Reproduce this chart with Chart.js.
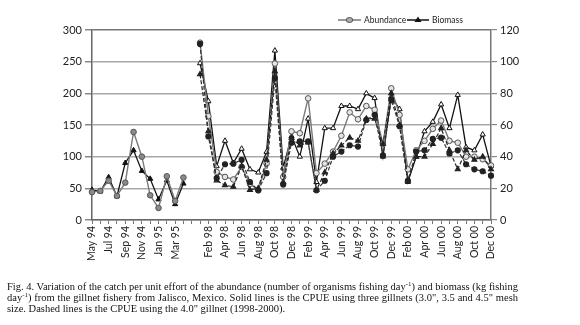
<!DOCTYPE html>
<html><head><meta charset="utf-8">
<script src="https://cdn.jsdelivr.net/npm/chart.js@4.4.1/dist/chart.umd.min.js"></script>
<style>
html,body{margin:0;padding:0;background:#fff;}
#wrap{position:relative;width:580px;height:325px;overflow:hidden;}
#c{position:absolute;left:0;top:0;}
#cap{position:absolute;left:7px;top:281px;width:511px;font-family:"Liberation Serif","Times New Roman",serif;font-size:10.5px;line-height:11px;color:#111;}
#cap div{white-space:nowrap;height:11px;}
#cap span{display:inline-block;transform-origin:0 0;}
#cap sup{font-size:7px;line-height:0;vertical-align:4px;}
</style></head>
<body><div id="wrap"><canvas id="c" width="580" height="325"></canvas>
<div id="cap">
<div><span>Fig. 4. Variation of the catch per unit effort of the abundance (number of organisms fishing day<sup>-1</sup>) and biomass (kg fishing</span></div>
<div><span>day<sup>-1</sup>) from the gillnet fishery from Jalisco, Mexico. Solid lines is the CPUE using three gillnets (3.0", 3.5 and 4.5" mesh</span></div>
<div><span>size. Dashed lines is the CPUE using the 4.0" gillnet (1998-2000).</span></div>
</div></div>
<script>
// ---- data ----
const months = ['May 94','Jun 94','Jul 94','Aug 94','Sep 94','Oct 94','Nov 94','Dec 94','Jan 95','Feb 95','Mar 95','Apr 95','',
 'Jan 98','Feb 98','Mar 98','Apr 98','May 98','Jun 98','Jul 98','Aug 98','Sep 98','Oct 98','Nov 98','Dec 98',
 'Jan 99','Feb 99','Mar 99','Apr 99','May 99','Jun 99','Jul 99','Aug 99','Sep 99','Oct 99','Nov 99','Dec 99',
 'Jan 00','Feb 00','Mar 00','Apr 00','May 00','Jun 00','Jul 00','Aug 00','Sep 00','Oct 00','Nov 00','Dec 00'];
// Abundance (three gillnets), left axis
const abundance = [44,46,62,38,59,139,100,39,19,69,30,67,null,
 280,164,76,68,64,84,57,47,89,247,68,140,
 137,192,74,89,108,133,170,159,180,174,120,208,
 166,80,110,125,144,157,125,122,100,100,96,86];
// Biomass (three gillnets), right axis
const biomass = [19,18,27,15,36,44,31,26,13,25,10,23,null,
 99,75,34,50,36,45,32,30,43,107,33,53,
 40,64,24,58,58,72,72,70,80,77,40,78,
 70,24,40,56,62,73,58,79,46,44,54,34];
// Abundance (4.0" gillnet), left axis
const abundance4 = [null,null,null,null,null,null,null,null,null,null,null,null,null,
 278,132,66,88,89,95,60,47,74,224,56,122,
 124,124,47,62,100,108,118,116,158,166,102,190,
 148,62,108,110,128,130,105,110,88,80,77,70];
// Biomass (4.0" gillnet), right axis
const biomass4 = [null,null,null,null,null,null,null,null,null,null,null,null,null,
 92,56,25,22,21,34,19,20,38,94,24,52,
 47,49,19,30,42,47,52,50,64,64,48,80,
 60,25,40,40,48,58,44,32,44,38,40,32];
const leftTicks = [0,50,100,150,200,250,300];
const rightTicks = [0,20,40,60,80,100,120];

const tickFont = {family:'Lato', size:11};
const legendPlugin = {
  id:'customLegend',
  afterDraw(chart){
    const ctx = chart.ctx;
    ctx.save();
    const y = 20;
    ctx.lineWidth = 1.5;
    ctx.strokeStyle = '#777';
    ctx.beginPath(); ctx.moveTo(338,y); ctx.lineTo(361,y); ctx.stroke();
    ctx.fillStyle = '#aaa'; ctx.strokeStyle='#555'; ctx.lineWidth=1;
    ctx.beginPath(); ctx.ellipse(349.5,y,3.3,2.5,0,0,Math.PI*2); ctx.fill(); ctx.stroke();
    ctx.strokeStyle = '#111'; ctx.lineWidth=1.5;
    ctx.beginPath(); ctx.moveTo(407,y); ctx.lineTo(429,y); ctx.stroke();
    ctx.fillStyle='#111';
    ctx.beginPath(); ctx.moveTo(418,y-3.5); ctx.lineTo(421.5,y+2); ctx.lineTo(414.5,y+2); ctx.closePath(); ctx.fill();
    ctx.font = '8.5px Lato'; ctx.fillStyle='#222'; ctx.textBaseline='middle';
    ctx.fillText('Abundance',364,y);
    ctx.fillText('Biomass',432,y);
    ctx.restore();
  }
};

new Chart(document.getElementById('c'), {
  type:'line',
  data:{
    labels: months,
    datasets:[
      {label:'Abundance 4.0"', data:abundance4, yAxisID:'y', borderColor:'#333', borderWidth:1.2, borderDash:[4,2],
       pointStyle:'circle', pointRadius:2.5, pointBackgroundColor:'#222', pointBorderColor:'#222', spanGaps:false},
      {label:'Biomass 4.0"', data:biomass4, yAxisID:'y2', borderColor:'#222', borderWidth:1.2, borderDash:[4,2],
       pointStyle:'triangle', pointRadius:2.8, pointBackgroundColor:'#222', pointBorderColor:'#222', spanGaps:false},
      {label:'Abundance', data:abundance, yAxisID:'y', borderColor:'#7a7a7a', borderWidth:1.4,
       pointStyle:'circle', pointRadius:2.8, pointBackgroundColor:c=>c.dataIndex<12?'#8a8a8a':'#e4e4e4', pointBorderColor:'#555', pointBorderWidth:1, spanGaps:false},
      {label:'Biomass', data:biomass, yAxisID:'y2', borderColor:'#111', borderWidth:1.3,
       pointStyle:'triangle', pointRadius:3, pointBackgroundColor:c=>c.dataIndex<12?'#111':'#fff', pointBorderColor:'#111', pointBorderWidth:1, spanGaps:false}
    ]
  },
  options:{
    responsive:false, animation:false,
    layout:{padding:{top:30,left:0,right:0,bottom:0}},
    plugins:{legend:{display:false}, tooltip:{enabled:false}},
    scales:{
      x:{type:'category', offset:false,
         grid:{drawOnChartArea:false, drawTicks:true, tickLength:4, color:'#777', lineWidth:1},
         border:{color:'#666', width:1.5},
         ticks:{autoSkip:false, maxRotation:90, minRotation:90, padding:2, color:'#222', font:{family:'Lato', size:10.5},
                callback:(v,i)=> i%2===0 ? months[i] : ''},
         afterFit:s=>{s.height=105;}
      },
      y:{position:'left', min:0, max:300,
         ticks:{stepSize:25, color:'#222', font:tickFont, padding:3,
                callback:v=> leftTicks.includes(v) ? v : ''},
         grid:{lineWidth:1.5, tickLength:7,
               color:c=> c.tick.value===300 ? '#777' : (c.tick.value%50===0 ? '#a8a8a8' : 'rgba(0,0,0,0)'),
               tickColor:'#888'},
         border:{color:'#666', width:1.5},
         afterFit:s=>{s.width=92;}
      },
      y2:{position:'right', min:0, max:120,
         ticks:{stepSize:10, color:'#222', font:tickFont, padding:3,
                callback:v=> rightTicks.includes(v) ? v : ''},
         grid:{drawOnChartArea:false, tickLength:6, tickColor:'#888', lineWidth:1.2},
         border:{color:'#777', width:1.5},
         afterFit:s=>{s.width=89;}
      }
    }
  },
  plugins:[legendPlugin]
});

// fit caption lines to justified width
(function(){
  const W = 511;
  document.querySelectorAll('#cap span').forEach((sp,i)=>{
    const w = sp.getBoundingClientRect().width;
    if (i===2) return;
    if (w > W) { sp.style.transform = 'scaleX(' + (W/w) + ')'; }
    else {
      const n = (sp.textContent.match(/ /g)||[]).length;
      sp.style.wordSpacing = ((W-w)/n) + 'px';
    }
  });
})();
</script>
</body></html>
